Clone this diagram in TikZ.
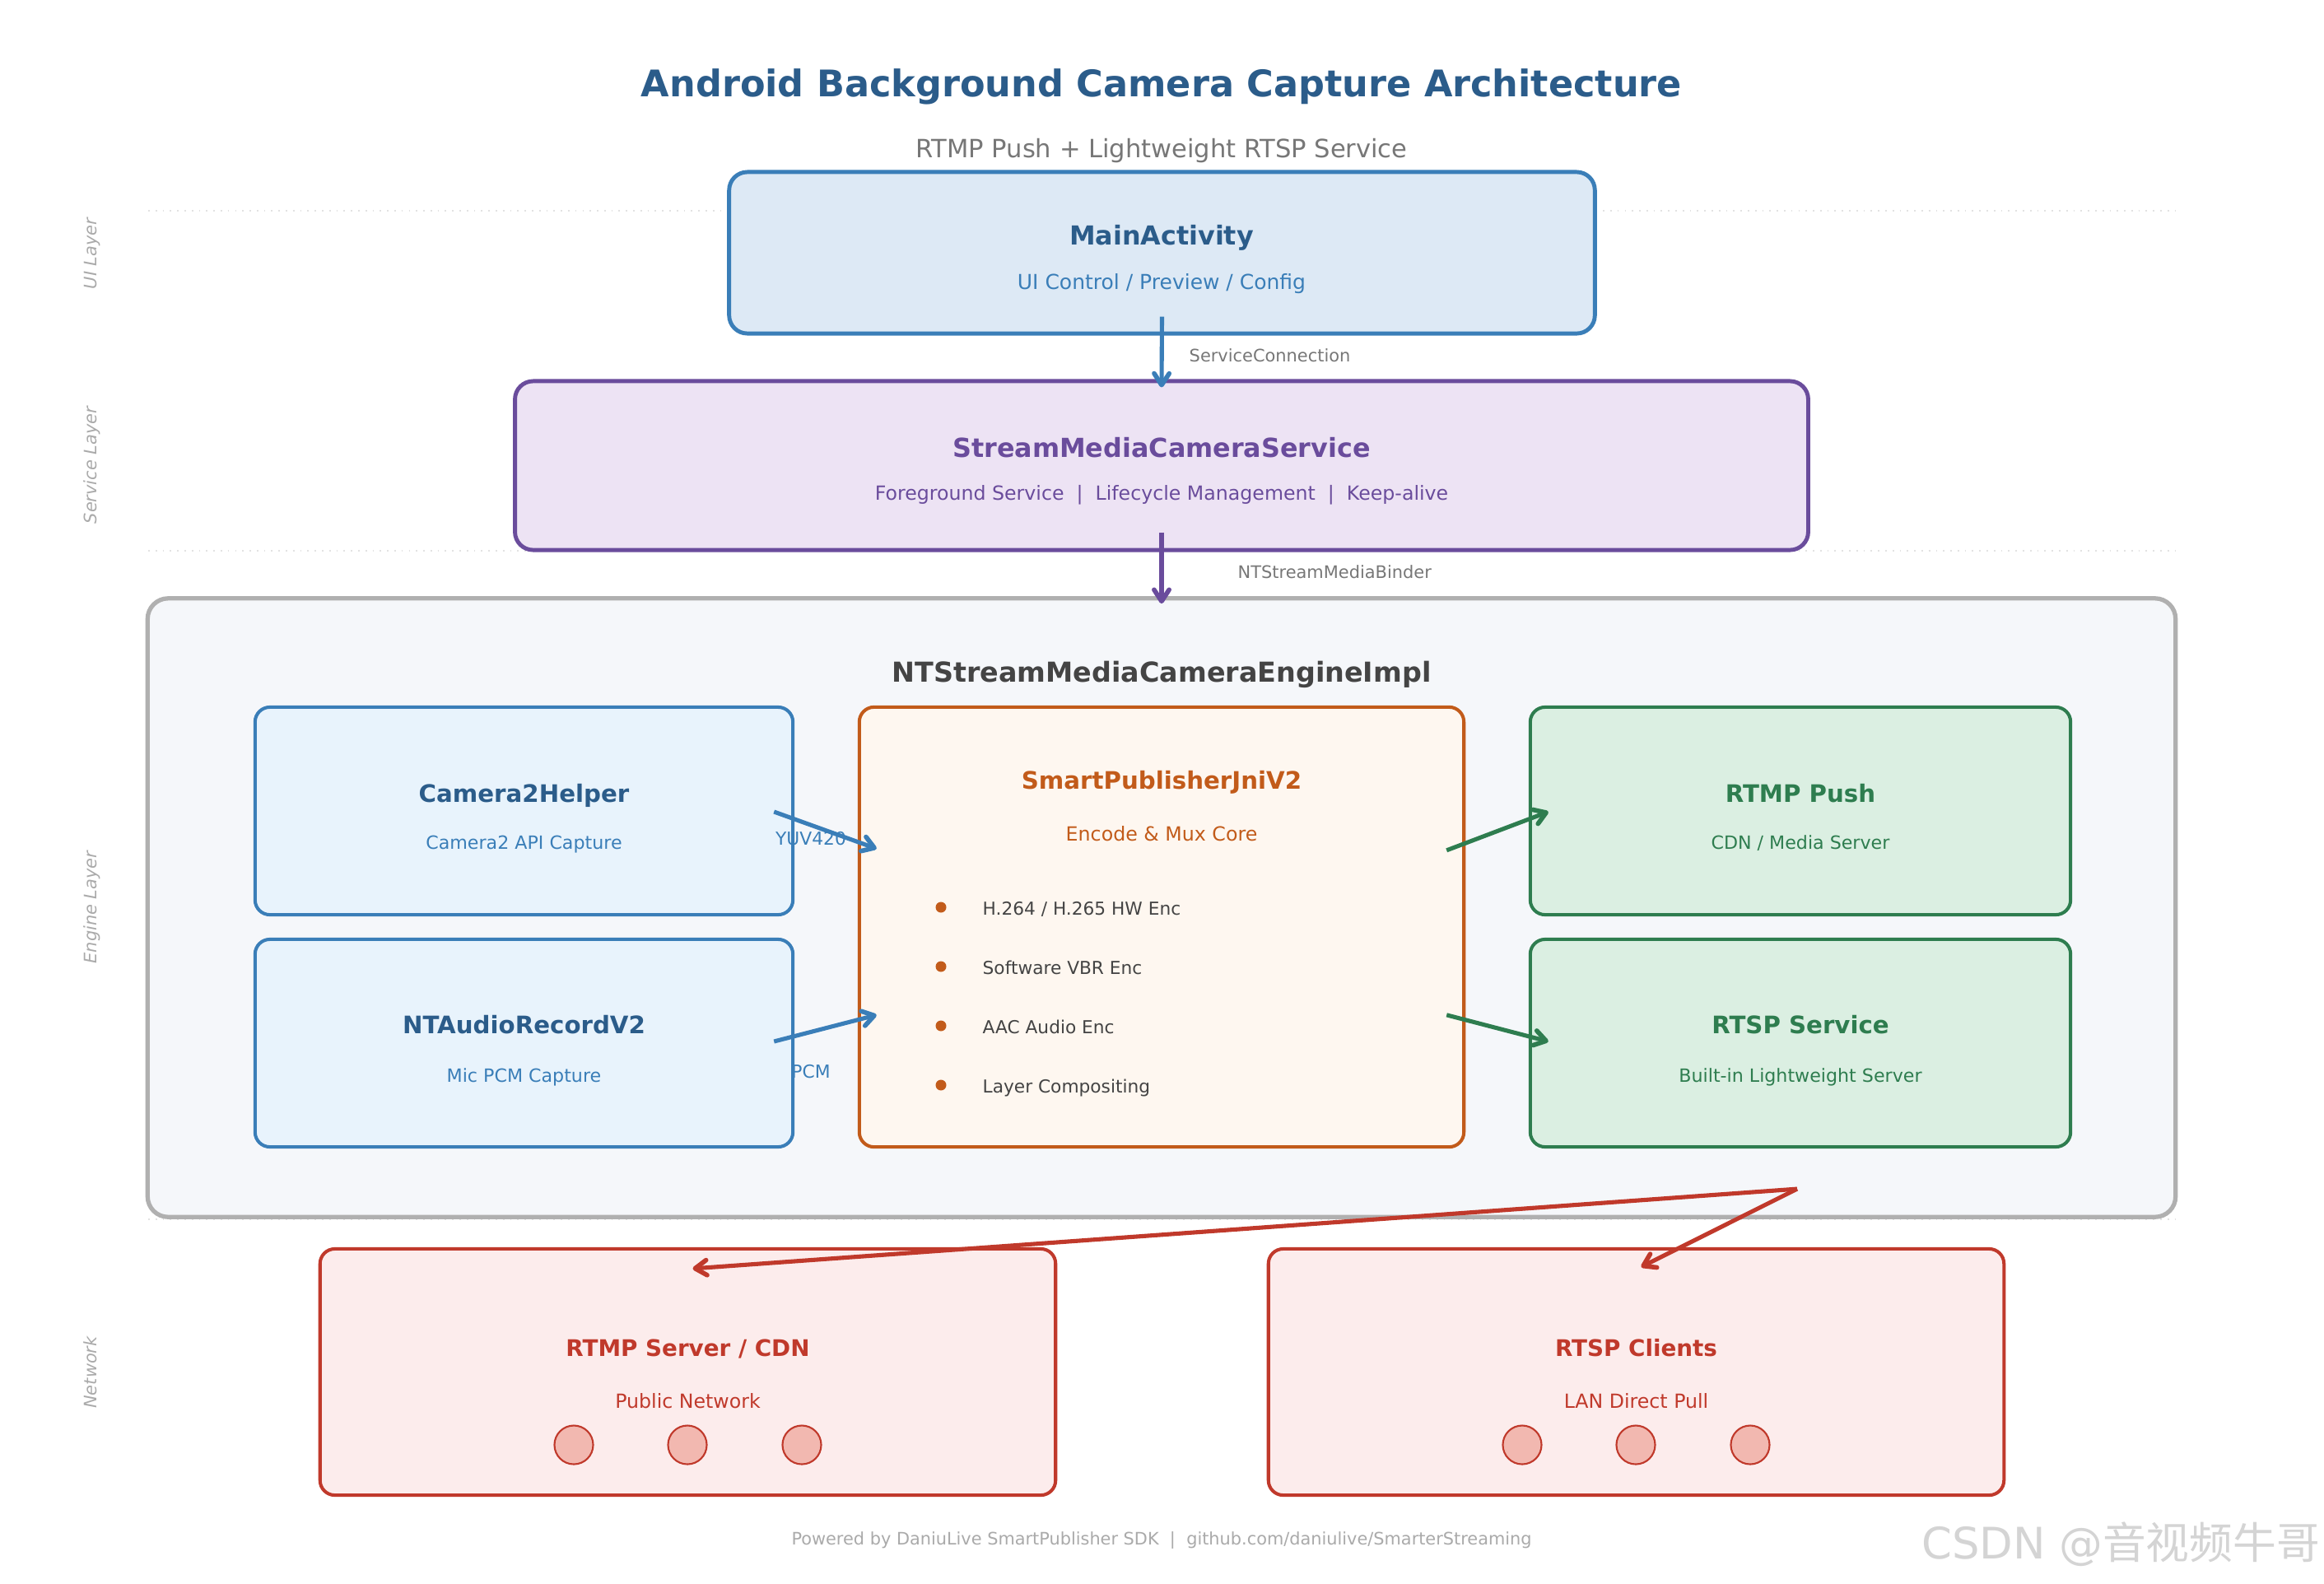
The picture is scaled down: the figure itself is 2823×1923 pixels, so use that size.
\documentclass[tikz,border=0pt]{standalone}
\usepackage{fontspec}
\setmainfont{DejaVu Sans}
\newfontfamily\cjkfont{Noto Sans CJK SC}
\usetikzlibrary{arrows.meta,calc}
\definecolor{titleblue}{HTML}{2B5C8A}
\definecolor{subgrey}{HTML}{777777}
\definecolor{mablue}{HTML}{3A7EB8}
\definecolor{mafill}{HTML}{DDE9F5}
\definecolor{purp}{HTML}{6A4C9C}
\definecolor{purfill}{HTML}{EDE3F4}
\definecolor{enggrey}{HTML}{B0B0B0}
\definecolor{engfill}{HTML}{F5F7FA}
\definecolor{engtext}{HTML}{444444}
\definecolor{capfill}{HTML}{E8F3FC}
\definecolor{orng}{HTML}{C25B1A}
\definecolor{orfill}{HTML}{FEF7F0}
\definecolor{grn}{HTML}{2E7D4F}
\definecolor{grfill}{HTML}{DBEFE2}
\definecolor{redc}{HTML}{C0392B}
\definecolor{redfill}{HTML}{FCECEC}
\definecolor{dotfill}{HTML}{F2B8B0}
\definecolor{lightgrey}{HTML}{AAAAAA}
\definecolor{sepgrey}{HTML}{E2E2E2}
\definecolor{wmgrey}{HTML}{D4D4D4}
\begin{document}
\begin{tikzpicture}[x=0.01cm,y=-0.01cm,
  bigbox/.style={draw, line width=1.4pt, rounded corners=0.22cm, inner sep=0pt},
  smallbox/.style={draw, line width=1.15pt, rounded corners=0.18cm, inner sep=0pt},
  t/.style={inner sep=0pt, text height=0.76em, text depth=0.24em},
  layer/.style={t, rotate=90, text=lightgrey, font=\fontsize{5.95pt}{5.95pt}\selectfont\itshape},
  arr/.style={line width=1.45pt, -{Straight Barb[length=4pt,width=5.2pt,line width=1.6pt,line cap=round,line join=round]}},
  lbl/.style={t, font=\fontsize{5.95pt}{5.95pt}\selectfont},
  sep/.style={draw=sepgrey, line width=0.5pt, dotted},
  dot/.style={circle, draw=redc, line width=0.6pt, fill=dotfill, minimum size=0.47cm, inner sep=0pt},
  bul/.style={circle, fill=orng, minimum size=0.13cm, inner sep=0pt},
  btitle/.style={t, font=\fontsize{8.32pt}{8.32pt}\selectfont\bfseries},
  bsub/.style={t, font=\fontsize{6.3pt}{6.3pt}\selectfont},
]
\useasboundingbox (0,0) rectangle (2823,1923);
\fill[white] (0,0) rectangle (2823,1923);

% separators
\draw[sep] (180,256) -- (2642,256);
\draw[sep] (180,669) -- (2642,669);
\draw[sep] (180,1481) -- (2642,1481);

% titles
\node[t, font=\fontsize{12.67pt}{12.67pt}\selectfont\bfseries, text=titleblue] (title) at (1411,108) {Android Background Camera Capture Architecture};
\node[t, font=\fontsize{8.69pt}{8.69pt}\selectfont, text=subgrey] (subtitle) at (1411,182) {RTMP Push + Lightweight RTSP Service};

% layer labels
\node[layer] (lui) at (108,308) {UI Layer};
\node[layer] (lsvc) at (108,565) {Service Layer};
\node[layer] (leng) at (108,1102) {Engine Layer};
\node[layer] (lnet) at (108,1667) {Network};

% UI layer
\node[bigbox, draw=mablue, fill=mafill, minimum width=10.51cm, minimum height=1.96cm] (ma) at (1411.5,307) {};
\node[t, font=\fontsize{9.04pt}{9.04pt}\selectfont\bfseries, text=titleblue] (maT) at (1411,288) {MainActivity};
\node[t, font=\fontsize{7.11pt}{7.11pt}\selectfont, text=mablue] (maS) at (1411,342) {UI Control / Preview / Config};

% Service layer
\node[bigbox, draw=purp, fill=purfill, minimum width=15.70cm, minimum height=2.05cm] (svc) at (1411,565.5) {};
\node[t, font=\fontsize{9.05pt}{9.05pt}\selectfont\bfseries, text=purp] (svcT) at (1411,546) {StreamMediaCameraService};
\node[t, font=\fontsize{6.73pt}{6.73pt}\selectfont, text=purp] (svcS) at (1411,598) {Foreground Service~~|~~Lifecycle Management~~|~~Keep-alive};

% Engine layer
\node[draw=enggrey, line width=1.5pt, fill=engfill, rounded corners=0.25cm, inner sep=0pt, minimum width=24.62cm, minimum height=7.51cm] (eng) at (1411,1102.5) {};
\node[t, font=\fontsize{9.49pt}{9.49pt}\selectfont\bfseries, text=engtext] (engT) at (1411,819) {NTStreamMediaCameraEngineImpl};

\node[smallbox, draw=mablue, fill=capfill, minimum width=6.53cm, minimum height=2.52cm] (cam) at (636.5,985) {};
\node[btitle, text=titleblue] (camT) at (636.5,965) {Camera2Helper};
\node[bsub, text=mablue] (camS) at (636.5,1022) {Camera2 API Capture};

\node[smallbox, draw=mablue, fill=capfill, minimum width=6.53cm, minimum height=2.52cm] (aud) at (636.5,1267) {};
\node[btitle, text=titleblue] (audT) at (636.5,1246) {NTAudioRecordV2};
\node[bsub, text=mablue] (audS) at (636.5,1305) {Mic PCM Capture};

\node[smallbox, draw=orng, fill=orfill, minimum width=7.34cm, minimum height=5.34cm] (sp) at (1411,1126) {};
\node[btitle, text=orng] (spT) at (1411,949) {SmartPublisherJniV2};
\node[t, font=\fontsize{6.74pt}{6.74pt}\selectfont, text=orng] (spS) at (1411,1012) {Encode \& Mux Core};
\node[bul] (b1) at (1143,1102) {};
\node[bul] (b2) at (1143,1174) {};
\node[bul] (b3) at (1143,1246) {};
\node[bul] (b4) at (1143,1318) {};
\node[t, anchor=west, font=\fontsize{6.17pt}{6.17pt}\selectfont, text=engtext] (b1t) at (1193,1102) {H.264 / H.265 HW Enc};
\node[t, anchor=west, font=\fontsize{6.17pt}{6.17pt}\selectfont, text=engtext] (b2t) at (1193,1174) {Software VBR Enc};
\node[t, anchor=west, font=\fontsize{6.17pt}{6.17pt}\selectfont, text=engtext] (b3t) at (1193,1246) {AAC Audio Enc};
\node[t, anchor=west, font=\fontsize{6.17pt}{6.17pt}\selectfont, text=engtext] (b4t) at (1193,1318) {Layer Compositing};

\node[smallbox, draw=grn, fill=grfill, minimum width=6.56cm, minimum height=2.52cm] (rtmp) at (2187,985) {};
\node[btitle, text=grn] (rtmpT) at (2187,965) {RTMP Push};
\node[bsub, text=grn] (rtmpS) at (2187,1022) {CDN / Media Server};

\node[smallbox, draw=grn, fill=grfill, minimum width=6.56cm, minimum height=2.52cm] (rtsp) at (2187,1267) {};
\node[btitle, text=grn] (rtspT) at (2187,1246) {RTSP Service};
\node[bsub, text=grn] (rtspS) at (2187,1305) {Built-in Lightweight Server};

% Network
\node[smallbox, draw=redc, fill=redfill, minimum width=8.93cm, minimum height=2.99cm] (srv) at (835.5,1666.5) {};
\node[t, font=\fontsize{7.9pt}{7.9pt}\selectfont\bfseries, text=redc] (srvT) at (835.5,1638) {RTMP Server / CDN};
\node[t, font=\fontsize{6.73pt}{6.73pt}\selectfont, text=redc] (srvS) at (835.5,1701) {Public Network};
\node[dot] (d1) at (697,1755) {};
\node[dot] (d2) at (835,1755) {};
\node[dot] (d3) at (974,1755) {};

\node[smallbox, draw=redc, fill=redfill, minimum width=8.93cm, minimum height=2.99cm] (cli) at (1987.5,1666.5) {};
\node[t, font=\fontsize{7.9pt}{7.9pt}\selectfont\bfseries, text=redc] (cliT) at (1987.5,1638) {RTSP Clients};
\node[t, font=\fontsize{6.73pt}{6.73pt}\selectfont, text=redc] (cliS) at (1987.5,1701) {LAN Direct Pull};
\node[dot] (d4) at (1849,1755) {};
\node[dot] (d5) at (1987,1755) {};
\node[dot] (d6) at (2126,1755) {};

% connector labels (under the arrows)
\node[lbl, anchor=west, text=subgrey] (l1) at (1444,430) {ServiceConnection};
\node[lbl, anchor=west, text=subgrey] (l2) at (1503,693) {NTStreamMediaBinder};
\node[t, font=\fontsize{6.2pt}{6.2pt}\selectfont, text=mablue] (l3) at (985,1017) {YUV420};
\node[t, font=\fontsize{6.2pt}{6.2pt}\selectfont, text=mablue] (l4) at (985,1300) {PCM};

% connectors
\draw[arr, mablue] ($(ma.south)+(0,-23)$) -- ($(svc.north)+(0,10)$);
\draw[arr, purp] ($(svc.south)+(0,-24)$) -- ($(eng.north)+(0,9)$);
\draw[arr, mablue] ($(cam.east)+(-25,1)$) -- ($(sp.north west)+(23,174)$);
\draw[arr, mablue] ($(aud.east)+(-25,-2)$) -- ($(sp.north west)+(23,376)$);
\draw[arr, grn] ($(sp.north east)+(-23,176)$) -- ($(rtmp.west)+(24,1)$);
\draw[arr, grn] ($(sp.north east)+(-23,376)$) -- ($(rtsp.west)+(24,-2)$);

\coordinate (fork) at ($(rtsp.south)+(-4,49)$);
\draw[arr, redc] (fork) -- ($(srv.north)+(6,26)$);
\draw[arr, redc] (fork) -- ($(cli.north)+(6,24)$);

% footer
\node[t, font=\fontsize{5.93pt}{5.93pt}\selectfont, text=lightgrey] (foot) at (1411,1867) {Powered by DaniuLive SmartPublisher SDK~~|~~github.com/daniulive/SmarterStreaming};
\node[t, font=\fontsize{15pt}{15pt}\selectfont, text=wmgrey] (wm) at (2576,1884) {CSDN @{\cjkfont 音视频牛哥}};
\end{tikzpicture}
\end{document}
